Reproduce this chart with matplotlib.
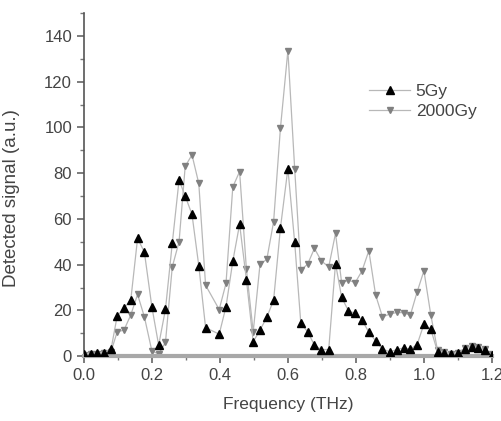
import matplotlib

matplotlib.use("Agg")
import matplotlib.pyplot as plt  # noqa: E402
from matplotlib.ticker import MultipleLocator  # noqa: E402

# frequency grid (THz)
freq = [0.0, 0.02, 0.04, 0.06, 0.08, 0.098, 0.118, 0.138, 0.158, 0.178,
        0.2, 0.22, 0.24, 0.26, 0.28, 0.298, 0.318, 0.338, 0.358, 0.398,
        0.418, 0.438, 0.458, 0.478, 0.498, 0.518, 0.538, 0.558, 0.578, 0.6,
        0.62, 0.638, 0.658, 0.678, 0.698, 0.72, 0.74, 0.758, 0.778, 0.798,
        0.818, 0.838, 0.858, 0.878, 0.9, 0.92, 0.94, 0.96, 0.98, 1.0,
        1.02, 1.04, 1.06, 1.08, 1.1, 1.12, 1.14, 1.16, 1.18, 1.2]

sig_5gy = [1, 1, 1.5, 1.5, 3, 17.5, 21, 24.5, 51.5, 45.5,
           21.6, 4.8, 20.5, 49.3, 77, 70, 62, 39.5, 12.5, 9.6,
           21.6, 41.5, 57.7, 33.5, 6.3, 11.4, 17, 24.5, 56, 82,
           49.7, 14.3, 10.7, 4.8, 2.9, 2.9, 40.5, 25.7, 19.8, 18.7,
           15.7, 10.5, 6.7, 3.1, 1.9, 2.9, 3.6, 3.1, 5.1, 14,
           11.8, 2, 1.5, 1, 1.5, 3, 4, 3.5, 2.5, 0.5]

sig_2000gy = [0.5, 1, 1, 1.5, 2, 10.6, 11.4, 18, 27, 17.2,
              2.3, 1, 6, 39, 50, 83, 88, 75.5, 31, 20.4,
              31.8, 74, 80.7, 38, 10.6, 40.2, 42.3, 58.8, 99.6, 133.6,
              81.8, 37.6, 40.2, 47.1, 41.7, 39, 53.7, 32.1, 33.2, 32.2,
              37.3, 46.1, 26.7, 17.2, 18.4, 19.1, 19, 17.9, 28.1, 37.3,
              18.2, 2.5, 2, 1, 1.5, 3.5, 4.5, 4, 3, 1]

INK = "#444444"
LINE = "#b8b8b8"

plt.rcParams["font.family"] = ["Liberation Sans", "DejaVu Sans"]
plt.rcParams["font.size"] = 12

fig = plt.figure(figsize=(5.02, 4.21), dpi=100)
ax = fig.add_axes([0.167, 0.154, 0.813, 0.815])

ax.plot(freq, sig_5gy, color=LINE, linewidth=0.9, marker="^", markersize=5.5,
        markerfacecolor="black", markeredgecolor="black", label="5Gy", zorder=3)
ax.plot(freq, sig_2000gy, color=LINE, linewidth=0.9, marker="v", markersize=5,
        markerfacecolor="#808080", markeredgecolor="#808080", label="2000Gy",
        zorder=2)

ax.set_xlim(0, 1.2)
ax.set_ylim(0, 150)
ax.xaxis.set_minor_locator(MultipleLocator(0.1))
ax.yaxis.set_minor_locator(MultipleLocator(10))
ax.set_yticks([0, 20, 40, 60, 80, 100, 120, 140])
ax.set_xticks([0.0, 0.2, 0.4, 0.6, 0.8, 1.0, 1.2])
ax.set_xticklabels(["0.0", "0.2", "0.4", "0.6", "0.8", "1.0", "1.2"])

for side in ("top", "right"):
    ax.spines[side].set_visible(False)
ax.spines["left"].set_color("#555555")
ax.spines["left"].set_linewidth(1.2)
ax.spines["bottom"].set_color("#a8a8a8")
ax.spines["bottom"].set_linewidth(3)
ax.tick_params(which="major", direction="out", length=5, width=1.2,
               colors="#666666", labelcolor=INK, labelsize=12)
ax.tick_params(which="minor", direction="out", length=3, width=1,
               colors="#777777")

ax.set_xlabel("Frequency (THz)", color=INK, fontsize=12.5, labelpad=10)
ax.set_ylabel("Detected signal (a.u.)", color=INK, fontsize=13.5)
ax.yaxis.set_label_coords(-0.157, 0.46)

leg = ax.legend(loc="upper left", bbox_to_anchor=(0.66, 0.84), frameon=False,
                fontsize=12.5, handlelength=2.4, labelspacing=0.3,
                handletextpad=0.3)
for text in leg.get_texts():
    text.set_color(INK)

fig.savefig("out.png", dpi=100, facecolor="white")
